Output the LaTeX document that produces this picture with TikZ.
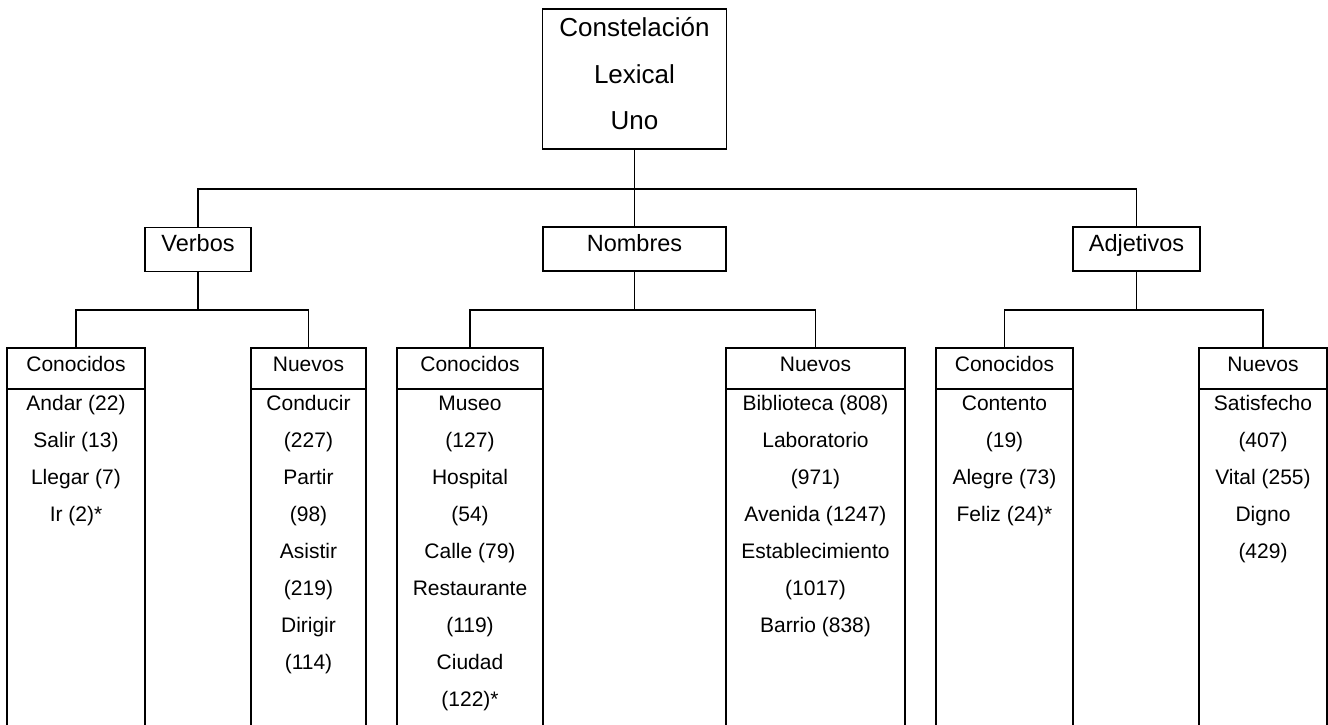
\documentclass[tikz,border=0pt]{standalone}
\usepackage{fontspec}
\setmainfont{Liberation Sans}
\begin{document}
\begin{tikzpicture}[x=1pt,y=-1pt,
  box/.style={draw, line width=1.3pt, inner sep=0pt, outer sep=0pt},
  toptxt/.style={anchor=base, inner sep=0pt, font=\fontsize{26}{30}\selectfont},
  midtxt/.style={anchor=base, inner sep=0pt, font=\fontsize{23.5}{28}\selectfont},
  item/.style={anchor=base, inner sep=0pt, font=\fontsize{21}{25}\selectfont},
  link/.style={line width=1.2pt}]
\useasboundingbox (0,0) rectangle (1328,724);
\clip (0,0) rectangle (1328,724);

% root
\node[box, minimum width=184pt, minimum height=140pt] (root) at (634.5,79) {};
\node[toptxt] (rootA) at (634.5,36.5) {Constelación};
\node[toptxt] (rootB) at (634.5,83) {Lexical};
\node[toptxt] (rootC) at (634.5,129) {Uno};

% word classes
\node[box, minimum width=106pt, minimum height=44pt] (verbos) at (198,249.5) {};
\node[box, minimum width=183pt, minimum height=44pt] (nombres) at (634.5,249) {};
\node[box, minimum width=127pt, minimum height=44pt] (adjetivos) at (1136.5,249) {};
\node[midtxt] (verbosT) at (198,251.5) {Verbos};
\node[midtxt] (nombresT) at (634.5,251.5) {Nombres};
\node[midtxt] (adjetivosT) at (1136.5,251) {Adjetivos};

% connectors, first level
\coordinate (bus) at (634.5,189);
\draw[link] (root.south) -- (bus);
\draw[link] (verbos.north) |- (bus) -| (adjetivos.north);
\draw[link] (bus) -- (nombres.north);

% leaf columns: header cell and open body
\foreach \n/\cx/\w/\lab in {vc/76/138/Conocidos, vn/308.5/115/Nuevos,
                            nc/470/146/Conocidos, nn/815.5/179/Nuevos,
                            ac/1004.5/137/Conocidos, an/1263/128/Nuevos}{
  \node[box, minimum width=\w pt, minimum height=41pt] (\n H) at (\cx,368.5) {};
  \node[box, minimum width=\w pt, minimum height=360pt] (\n B) at (\cx,569) {};
  \node[item] (\n T) at (\cx,371) {\lab};
}

% connectors, second level
\coordinate (vbus) at (198,310);
\coordinate (nbus) at (634.5,310);
\coordinate (abus) at (1136.5,310);
\draw[link] (verbos.south) -- (vbus);
\draw[link] (vcH.north) |- (vbus) -| (vnH.north);
\draw[link] (nombres.south) -- (nbus);
\draw[link] (ncH.north) |- (nbus) -| (nnH.north);
\draw[link] (adjetivos.south) -- (abus);
\draw[link] (acH.north) |- (abus) -| (anH.north);

% word lists
\foreach \t [count=\i] in {{Andar (22)},{Salir (13)},{Llegar (7)},{Ir (2)*}}
  \node[item] (vc\i) at (76,{410+37*(\i-1)}) {\t};
\foreach \t [count=\i] in {{Conducir},{(227)},{Partir},{(98)},{Asistir},{(219)},{Dirigir},{(114)}}
  \node[item] (vn\i) at (308.5,{410+37*(\i-1)}) {\t};
\foreach \t [count=\i] in {{Museo},{(127)},{Hospital},{(54)},{Calle (79)},{Restaurante},{(119)},{Ciudad},{(122)*}}
  \node[item] (nc\i) at (470,{410+37*(\i-1)}) {\t};
\foreach \t [count=\i] in {{Biblioteca (808)},{Laboratorio},{(971)},{Avenida (1247)},{Establecimiento},{(1017)},{Barrio (838)}}
  \node[item] (nn\i) at (815.5,{410+37*(\i-1)}) {\t};
\foreach \t [count=\i] in {{Contento},{(19)},{Alegre (73)},{Feliz (24)*}}
  \node[item] (ac\i) at (1004.5,{410+37*(\i-1)}) {\t};
\foreach \t [count=\i] in {{Satisfecho},{(407)},{Vital (255)},{Digno},{(429)}}
  \node[item] (an\i) at (1263,{410+37*(\i-1)}) {\t};
\end{tikzpicture}
\end{document}
